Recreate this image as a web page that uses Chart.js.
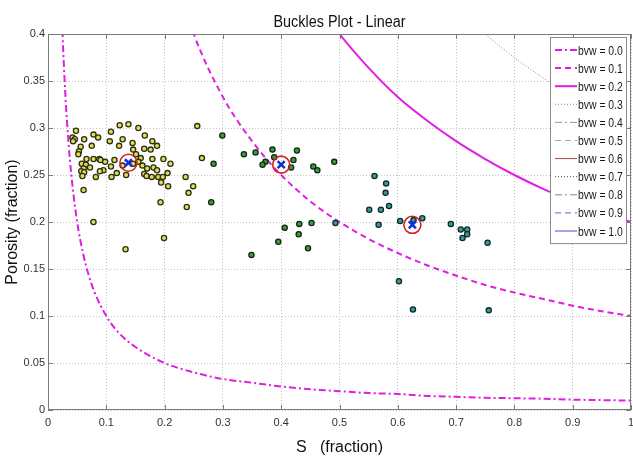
<!DOCTYPE html>
<html lang="en">
<head>
  <meta charset="UTF-8">
  <title>Buckles Plot - Linear</title>
  <script src="https://cdn.jsdelivr.net/npm/chart.js"></script>
  <style>
    body { margin: 0; background: #fff; }
  </style>
</head>
<body>
  <canvas id="buckles" width="633" height="459"></canvas>

  <script>
    // Sw sample points for the bvw = Sw * phi curves
    const sCurve = [0.02, 0.025, 0.03, 0.035, 0.04, 0.05, 0.06, 0.07, 0.08, 0.1, 0.12, 0.15, 0.2, 0.25, 0.3, 0.35,
      0.4, 0.45, 0.5, 0.55, 0.6, 0.65, 0.7, 0.75, 0.8, 0.85, 0.9, 0.95, 1.0];
    const phiBvw00 = [0.5, 0.4, 0.333, 0.286, 0.25, 0.2, 0.167, 0.143, 0.125, 0.1, 0.083, 0.067, 0.05, 0.04, 0.033, 0.029,
      0.025, 0.022, 0.02, 0.018, 0.017, 0.015, 0.014, 0.013, 0.0125, 0.012, 0.011, 0.0105, 0.01];
    const phiBvw01 = [5, 4, 3.333, 2.857, 2.5, 2, 1.667, 1.429, 1.25, 1, 0.833, 0.667, 0.5, 0.4, 0.333, 0.286,
      0.25, 0.222, 0.2, 0.182, 0.167, 0.154, 0.143, 0.133, 0.125, 0.118, 0.111, 0.105, 0.1];
    const phiBvw02 = [10, 8, 6.667, 5.714, 5, 4, 3.333, 2.857, 2.5, 2, 1.667, 1.333, 1, 0.8, 0.667, 0.571,
      0.5, 0.444, 0.4, 0.364, 0.333, 0.308, 0.286, 0.267, 0.25, 0.235, 0.222, 0.211, 0.2];
    const phiBvw03 = [15, 12, 10, 8.571, 7.5, 6, 5, 4.286, 3.75, 3, 2.5, 2, 1.5, 1.2, 1, 0.857,
      0.75, 0.667, 0.6, 0.545, 0.5, 0.462, 0.429, 0.4, 0.375, 0.353, 0.333, 0.316, 0.3];
    // higher bvw curves stay above the plotted range
    const sTail = [0.9, 0.95, 1.0];
    const phiBvw04 = [0.444, 0.421, 0.4];
    const phiBvw05 = [0.556, 0.526, 0.5];
    const phiBvw06 = [0.667, 0.632, 0.6];
    const phiBvw07 = [0.778, 0.737, 0.7];
    const phiBvw08 = [0.889, 0.842, 0.8];
    const phiBvw09 = [1.0, 0.947, 0.9];
    const phiBvw10 = [1.111, 1.053, 1.0];

    // cluster 1 (yellow)
    const sYellow = [0.048, 0.042, 0.046, 0.043, 0.062, 0.056, 0.053, 0.052, 0.078, 0.086, 0.075, 0.108, 0.123, 0.138,
      0.106, 0.128, 0.122, 0.066, 0.058, 0.065, 0.061, 0.072, 0.057, 0.062, 0.059, 0.078, 0.088, 0.090, 0.098, 0.095,
      0.089, 0.082, 0.108, 0.114, 0.109, 0.118, 0.134, 0.061, 0.078, 0.133, 0.155, 0.166, 0.179, 0.187, 0.145, 0.165,
      0.176, 0.146, 0.151, 0.159, 0.179, 0.198, 0.210, 0.155, 0.162, 0.170, 0.181, 0.187, 0.165, 0.169, 0.178, 0.189,
      0.197, 0.205, 0.194, 0.206, 0.236, 0.249, 0.241, 0.238, 0.193, 0.199, 0.256, 0.264, 0.146, 0.128];
    const phiYellow = [0.297, 0.290, 0.288, 0.286, 0.288, 0.280, 0.275, 0.272, 0.293, 0.290, 0.281, 0.296, 0.303, 0.304,
      0.286, 0.288, 0.281, 0.267, 0.262, 0.261, 0.257, 0.258, 0.254, 0.253, 0.249, 0.267, 0.267, 0.266, 0.264, 0.255,
      0.254, 0.248, 0.259, 0.266, 0.248, 0.252, 0.250, 0.234, 0.200, 0.171, 0.300, 0.292, 0.286, 0.281, 0.284, 0.278,
      0.277, 0.277, 0.272, 0.268, 0.267, 0.267, 0.262, 0.264, 0.260, 0.257, 0.258, 0.255, 0.251, 0.249, 0.248, 0.248,
      0.248, 0.252, 0.242, 0.238, 0.248, 0.238, 0.231, 0.216, 0.221, 0.183, 0.302, 0.268, 0.262, 0.260];

    // cluster 2 (green)
    const sGreen = [0.299, 0.284, 0.280, 0.336, 0.356, 0.385, 0.388, 0.373, 0.368, 0.427, 0.421, 0.417, 0.455, 0.462,
      0.491, 0.406, 0.431, 0.452, 0.430, 0.395, 0.446, 0.349];
    const phiGreen = [0.292, 0.262, 0.221, 0.272, 0.274, 0.277, 0.269, 0.264, 0.261, 0.276, 0.266, 0.258, 0.259, 0.255,
      0.264, 0.194, 0.198, 0.199, 0.187, 0.179, 0.172, 0.165];

    // cluster 3 (teal)
    const sTeal = [0.493, 0.551, 0.560, 0.580, 0.579, 0.585, 0.571, 0.567, 0.604, 0.627, 0.642, 0.691, 0.708, 0.719,
      0.719, 0.711, 0.754, 0.602, 0.626, 0.756];
    const phiTeal = [0.199, 0.213, 0.249, 0.241, 0.231, 0.217, 0.213, 0.197, 0.201, 0.202, 0.204, 0.198, 0.192, 0.192,
      0.187, 0.183, 0.178, 0.137, 0.107, 0.106];

    // cluster centres
    const sCentre = [0.138, 0.400, 0.625];
    const phiCentre = [0.263, 0.261, 0.197];

    const xTicks = [0, 0.1, 0.2, 0.3, 0.4, 0.5, 0.6, 0.7, 0.8, 0.9, 1];
    const yTicks = [0, 0.05, 0.1, 0.15, 0.2, 0.25, 0.3, 0.35, 0.4];

    const chartTitle = 'Buckles Plot - Linear';

    const pts = (xs, ys) => xs.map((x, i) => ({ x: x, y: ys[i] }));

    function curve(label, xs, ys, color, width, dash) {
      return {
        label: label,
        data: pts(xs, ys),
        showLine: true,
        borderColor: color,
        backgroundColor: color,
        borderWidth: width,
        borderDash: dash,
        pointRadius: 0,
        pointHoverRadius: 0,
        cubicInterpolationMode: 'monotone',
        fill: false,
        order: 5
      };
    }

    function cluster(xs, ys, fill, edge) {
      return {
        label: '',
        data: pts(xs, ys),
        pointRadius: 2.6,
        pointBorderWidth: 1.3,
        backgroundColor: fill,
        borderColor: edge,
        order: 3
      };
    }

    const DASHDOT = [7, 3, 2, 3];
    const DASHED = [6, 4];
    const DOTTED = [1, 2];

    // grey frame with inward ticks (matlab look) + title centred over the plot
    const framePlugin = {
      id: 'frame',
      afterDatasetsDraw(chart) {
        const { ctx, chartArea: a, scales } = chart;
        ctx.save();
        ctx.strokeStyle = '#7a7a7a';
        ctx.lineWidth = 1;
        ctx.setLineDash([]);
        ctx.strokeRect(a.left + 0.5, a.top + 0.5, a.right - a.left - 1, a.bottom - a.top - 1);
        ctx.beginPath();
        xTicks.forEach(v => {
          const px = Math.round(scales.x.getPixelForValue(v)) + 0.5;
          ctx.moveTo(px, a.bottom); ctx.lineTo(px, a.bottom - 5);
          ctx.moveTo(px, a.top); ctx.lineTo(px, a.top + 5);
        });
        yTicks.forEach(v => {
          const py = Math.round(scales.y.getPixelForValue(v)) + 0.5;
          ctx.moveTo(a.left, py); ctx.lineTo(a.left + 5, py);
          ctx.moveTo(a.right, py); ctx.lineTo(a.right - 5, py);
        });
        ctx.stroke();

        ctx.fillStyle = '#111';
        ctx.font = "16px 'Liberation Sans', Arial, sans-serif";
        ctx.textAlign = 'center';
        ctx.textBaseline = 'alphabetic';
        ctx.save();
        ctx.translate((a.left + a.right) / 2, 27);
        ctx.scale(0.9, 1);
        ctx.fillText(chartTitle, 0, 0);
        ctx.restore();
        ctx.restore();
      }
    };

    // boxed legend inside the top right of the plot
    const legendPlugin = {
      id: 'bvwLegend',
      afterDraw(chart) {
        const { ctx, chartArea: a } = chart;
        const items = chart.data.datasets.filter(d => d.label.startsWith('bvw'));
        const w = 76, rowH = 18.1;
        const h = items.length * rowH + 7;
        const x0 = a.right - w - 5, y0 = a.top + 3;
        ctx.save();
        ctx.fillStyle = '#fff';
        ctx.fillRect(x0, y0, w, h);
        ctx.strokeStyle = '#8a8a8a';
        ctx.lineWidth = 1;
        ctx.strokeRect(x0 + 0.5, y0 + 0.5, w, h);
        ctx.font = "13px 'Liberation Sans', Arial, sans-serif";
        ctx.textBaseline = 'middle';
        items.forEach((d, i) => {
          const y = y0 + 13 + i * rowH;
          ctx.strokeStyle = d.borderColor;
          ctx.lineWidth = d.borderWidth;
          ctx.setLineDash(d.borderDash);
          ctx.beginPath();
          ctx.moveTo(x0 + 5, y);
          ctx.lineTo(x0 + 27, y);
          ctx.stroke();
          ctx.setLineDash([]);
          ctx.fillStyle = '#1a1a1a';
          ctx.save();
          ctx.translate(x0 + 28, y + 1);
          ctx.scale(0.8, 1);
          ctx.fillText(d.label, 0, 0);
          ctx.restore();
        });
        ctx.restore();
      }
    };

    const ctx = document.getElementById('buckles').getContext('2d');
    const chart = new Chart(ctx, {
      type: 'scatter',
      data: {
        datasets: [
          curve('bvw = 0.0', sCurve, phiBvw00, '#e01ee0', 2, DASHDOT),
          curve('bvw = 0.1', sCurve, phiBvw01, '#e01ee0', 2, DASHED),
          curve('bvw = 0.2', sCurve, phiBvw02, '#e01ee0', 2, []),
          curve('bvw = 0.3', sCurve, phiBvw03, '#c07070', 1, DOTTED),
          curve('bvw = 0.4', sTail, phiBvw04, '#a89090', 1, DASHDOT),
          curve('bvw = 0.5', sTail, phiBvw05, '#c0a088', 1, DASHED),
          curve('bvw = 0.6', sTail, phiBvw06, '#a84848', 1, []),
          curve('bvw = 0.7', sTail, phiBvw07, '#404040', 1, DOTTED),
          curve('bvw = 0.8', sTail, phiBvw08, '#8080a8', 1, DASHDOT),
          curve('bvw = 0.9', sTail, phiBvw09, '#6060c8', 1, DASHED),
          curve('bvw = 1.0', sTail, phiBvw10, '#4a4ac0', 1, []),
          cluster(sYellow, phiYellow, '#dede5c', '#2e2e10'),
          cluster(sGreen, phiGreen, '#3c9c3c', '#102810'),
          cluster(sTeal, phiTeal, '#3a9a94', '#0e2a2a'),
          {
            label: '',
            data: pts(sCentre, phiCentre),
            pointRadius: 8.5,
            pointBorderWidth: 1.6,
            backgroundColor: 'rgba(0,0,0,0)',
            borderColor: '#d42222',
            order: 2
          },
          {
            label: '',
            data: pts(sCentre, phiCentre),
            pointStyle: 'crossRot',
            pointRadius: 5,
            pointBorderWidth: 2.6,
            borderColor: '#1c2cd4',
            order: 1
          }
        ]
      },
      options: {
        responsive: false,
        animation: false,
        layout: { autoPadding: false, padding: { left: 0, right: 2, top: 34, bottom: 0 } },
        plugins: {
          legend: { display: false },
          tooltip: { enabled: false },
          title: { display: false }
        },
        scales: {
          x: {
            type: 'linear',
            min: 0,
            max: 1,
            afterBuildTicks: axis => { axis.ticks = xTicks.map(v => ({ value: v })); },
            afterFit: axis => { axis.height = 49; axis.paddingLeft = 0; axis.paddingRight = 0; },
            ticks: {
              padding: 6,
              color: '#333',
              font: { family: "'Liberation Sans', Arial, sans-serif", size: 11 },
              callback: v => String(+v.toFixed(1))
            },
            grid: { color: '#c4c4c4', lineWidth: 1, drawTicks: false },
            border: { display: false, dash: [1, 2] },
            title: {
              display: true,
              text: 'S   (fraction)',
              color: '#111',
              font: { family: "'Liberation Sans', Arial, sans-serif", size: 16 },
              padding: { top: 0, bottom: 2 }
            }
          },
          y: {
            type: 'linear',
            min: 0,
            max: 0.4,
            afterBuildTicks: axis => { axis.ticks = yTicks.map(v => ({ value: v })); },
            afterFit: axis => { axis.width = 48; axis.paddingTop = 0; axis.paddingBottom = 0; },
            ticks: {
              padding: 3,
              color: '#333',
              font: { family: "'Liberation Sans', Arial, sans-serif", size: 11 },
              callback: v => String(+v.toFixed(2))
            },
            grid: { color: '#c4c4c4', lineWidth: 1, drawTicks: false },
            border: { display: false, dash: [1, 2] },
            title: {
              display: true,
              text: 'Porosity (fraction)',
              color: '#111',
              font: { family: "'Liberation Sans', Arial, sans-serif", size: 16 },
              padding: { top: 3, bottom: 0 }
            }
          }
        }
      },
      plugins: [framePlugin, legendPlugin]
    });
  </script>
</body>
</html>
